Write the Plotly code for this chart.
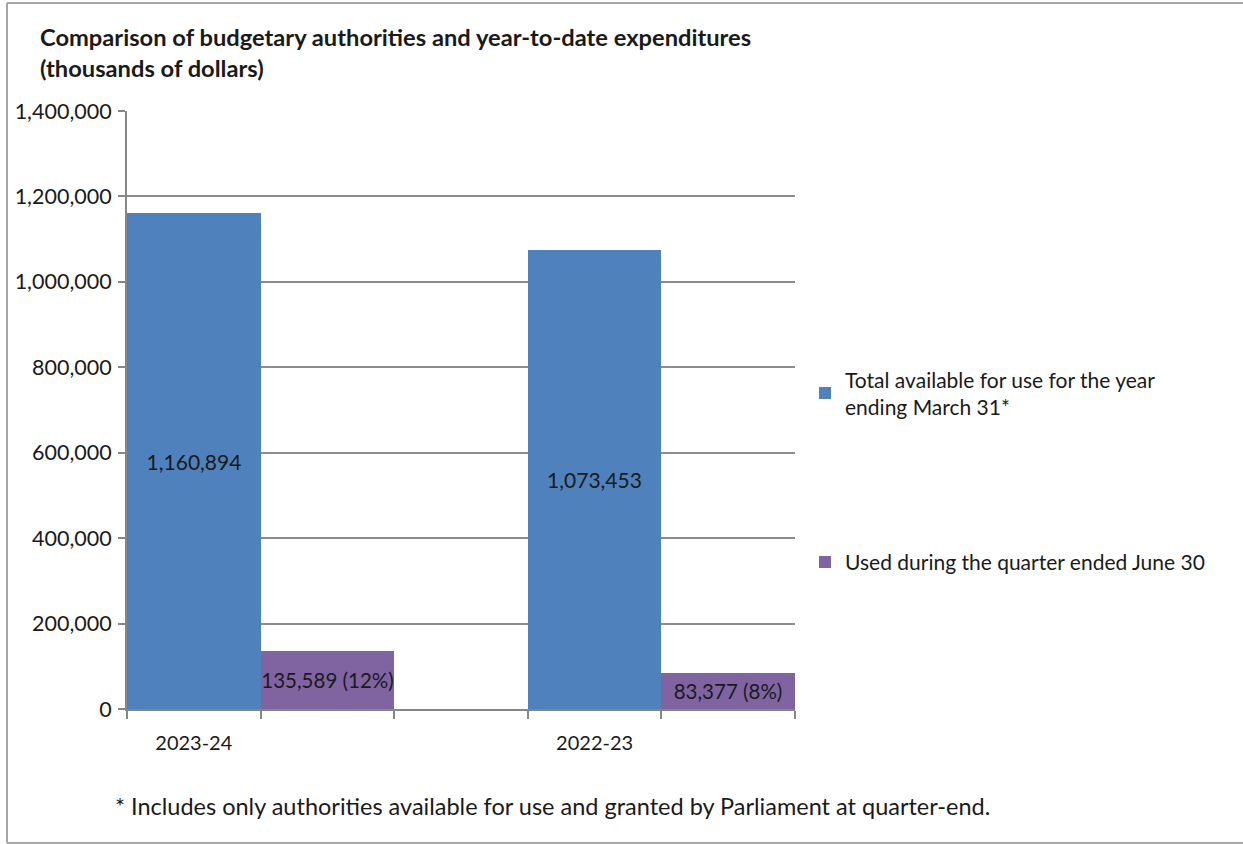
import plotly.graph_objects as go

categories = ["2023-24", "2022-23"]
total_available = [1160894, 1073453]
used_quarter = [135589, 83377]
used_pct = ["12%", "8%"]
series_names = ["Total available for use for the year<br>ending March 31*",
                "Used during the quarter ended June 30"]
y_ticks = [0, 200000, 400000, 600000, 800000, 1000000, 1200000, 1400000]

FONT = "Lato"
W, H = 1243, 844
L, R, T, B = 127, W - 795, 111, H - 709

# each category occupies 3 slots on a numeric axis: blue, purple, gap
base = [i * 3 for i in range(len(categories))]
x_blue = [b + 0.5 for b in base]
x_purple = [b + 1.5 for b in base]

fig = go.Figure()
fig.add_trace(go.Bar(
    x=x_blue, y=total_available, width=1.0, name=series_names[0],
    marker=dict(color="#4F81BD", line=dict(width=0)),
    text=[f"{v:,}" for v in total_available],
    textposition="inside", insidetextanchor="middle", constraintext="none",
    textfont=dict(family=FONT, size=21, color="#1a1a1a"),
    legendgroup="a",
))
fig.add_trace(go.Bar(
    x=x_purple, y=used_quarter, width=1.0, name=series_names[1],
    marker=dict(color="#8064A2", line=dict(width=0)),
    text=[f"{v:,} ({p})" for v, p in zip(used_quarter, used_pct)],
    textposition="inside", insidetextanchor="middle", constraintext="none",
    textfont=dict(family=FONT, size=20.5, color="#1a1a1a"),
    legendgroup="b",
))

n_slots = 3 * len(categories) - 1
fig.update_layout(
    width=W, height=H,
    margin=dict(l=L, r=R, t=T, b=B),
    paper_bgcolor="white", plot_bgcolor="white",
    font=dict(family=FONT, size=21, color="#1a1a1a"),
    bargap=0, showlegend=True,
    legend=dict(x=1.015, y=0.585, xanchor="left", yanchor="top",
                font=dict(family=FONT, size=21, color="#1a1a1a"),
                tracegroupgap=125, traceorder="grouped",
                itemwidth=30, bgcolor="rgba(0,0,0,0)"),
    xaxis=dict(range=[0, n_slots], tickmode="array",
               tickvals=x_blue, ticktext=categories,
               ticks="", showgrid=False, zeroline=False,
               showline=True, linecolor="#868686", linewidth=2,
               tickfont=dict(family=FONT, size=20, color="#1a1a1a"),
               minor=dict(tickmode="array", tickvals=list(range(n_slots + 1)),
                          ticks="outside", ticklen=8, tickcolor="#868686",
                          tickwidth=2, showgrid=False),
               ticklabelstandoff=15, fixedrange=True),
    yaxis=dict(range=[0, 1400000], tickmode="array", tickvals=y_ticks,
               tickformat=",d", showgrid=True, gridcolor="#8c8c8c", gridwidth=2,
               zeroline=False, showline=True, linecolor="#868686", linewidth=2,
               ticks="outside", ticklen=7, tickcolor="#868686", tickwidth=2,
               tickfont=dict(family=FONT, size=21.5, color="#1a1a1a"),
               ticklabelstandoff=2, fixedrange=True),
)

def px_x(p):
    return (p - L) / (W - L - R)

def px_y(p):
    return (H - B - p) / (H - T - B)

fig.add_annotation(
    text="<b>Comparison of budgetary authorities and year-to-date expenditures<br>(thousands of dollars)</b>",
    xref="paper", yref="paper", x=px_x(38), y=px_y(21), xanchor="left", yanchor="top",
    showarrow=False, align="left",
    font=dict(family=FONT, size=23.7, color="#1a1a1a"),
)
fig.add_annotation(
    text="* Includes only authorities available for use and granted by Parliament at quarter-end.",
    xref="paper", yref="paper", x=px_x(113), y=px_y(806), xanchor="left", yanchor="middle",
    showarrow=False, font=dict(family=FONT, size=23.5, color="#1a1a1a"),
)
border = dict(color="#a6a6a6", width=2)
fig.add_shape(type="line", xref="paper", yref="paper",
              x0=px_x(7), x1=px_x(7), y0=px_y(843), y1=px_y(3), line=border, layer="below")
fig.add_shape(type="line", xref="paper", yref="paper",
              x0=px_x(7), x1=px_x(1243), y0=px_y(3), y1=px_y(3), line=border, layer="below")
fig.add_shape(type="line", xref="paper", yref="paper",
              x0=px_x(7), x1=px_x(1243), y0=px_y(843), y1=px_y(843), line=border, layer="below")

fig.write_html("out.html", config={"displayModeBar": False},
               post_script="document.body.style.margin='0px';")
